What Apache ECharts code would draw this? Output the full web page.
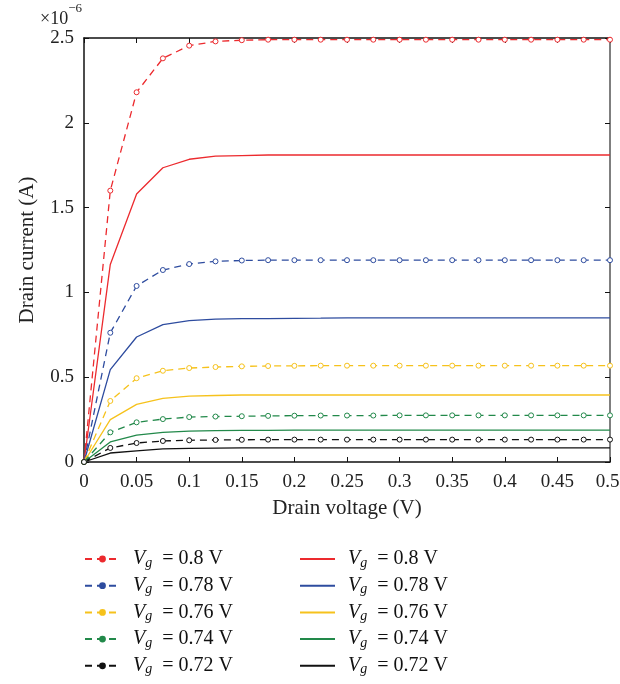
<!DOCTYPE html>
<html>
<head>
<meta charset="utf-8">
<script src="https://cdn.jsdelivr.net/npm/echarts@6/dist/echarts.min.js"></script>
<style>
html, body { margin: 0; padding: 0; background: #fff; }
#chart { width: 620px; height: 684px; }
</style>
</head>
<body>
<div id="chart"></div>
<script>
// drain voltage (V)
var vd = [0, 0.025, 0.05, 0.075, 0.1, 0.125, 0.15, 0.175, 0.2, 0.225, 0.25,
          0.275, 0.3, 0.325, 0.35, 0.375, 0.4, 0.425, 0.45, 0.475, 0.5];
var gateLabels = ['0.8', '0.78', '0.76', '0.74', '0.72'];
var colors = ['#ec2a2e', '#2e4c9f', '#f6c21c', '#22894a', '#111111'];

// drain current, x1e-6 A  (dashed with markers)
var dash08  = [0, 1.60, 2.18, 2.38, 2.455, 2.48, 2.487, 2.49, 2.49, 2.49, 2.49, 2.49, 2.49, 2.49, 2.49, 2.49, 2.49, 2.49, 2.49, 2.49, 2.49];
var dash078 = [0, 0.762, 1.038, 1.132, 1.167, 1.183, 1.188, 1.19, 1.19, 1.19, 1.19, 1.19, 1.19, 1.19, 1.19, 1.19, 1.19, 1.19, 1.19, 1.19, 1.19];
var dash076 = [0, 0.36, 0.494, 0.538, 0.554, 0.56, 0.564, 0.566, 0.567, 0.568, 0.568, 0.568, 0.568, 0.568, 0.568, 0.568, 0.568, 0.568, 0.568, 0.568, 0.568];
var dash074 = [0, 0.175, 0.234, 0.253, 0.265, 0.268, 0.27, 0.272, 0.273, 0.274, 0.274, 0.274, 0.275, 0.275, 0.275, 0.275, 0.275, 0.275, 0.275, 0.275, 0.275];
var dash072 = [0, 0.083, 0.112, 0.124, 0.128, 0.13, 0.131, 0.132, 0.132, 0.132, 0.132, 0.132, 0.132, 0.132, 0.132, 0.132, 0.132, 0.132, 0.132, 0.132, 0.132];
// solid lines
var sol08  = [0, 1.165, 1.58, 1.735, 1.785, 1.803, 1.807, 1.81, 1.81, 1.81, 1.81, 1.81, 1.81, 1.81, 1.81, 1.81, 1.81, 1.81, 1.81, 1.81, 1.81];
var sol078 = [0, 0.545, 0.737, 0.81, 0.833, 0.843, 0.845, 0.845, 0.847, 0.848, 0.85, 0.85, 0.85, 0.85, 0.85, 0.85, 0.85, 0.85, 0.85, 0.85, 0.85];
var sol076 = [0, 0.25, 0.34, 0.375, 0.388, 0.392, 0.395, 0.395, 0.395, 0.395, 0.395, 0.395, 0.395, 0.395, 0.395, 0.395, 0.395, 0.395, 0.395, 0.395, 0.395];
var sol074 = [0, 0.118, 0.159, 0.175, 0.182, 0.185, 0.186, 0.187, 0.188, 0.188, 0.188, 0.188, 0.188, 0.188, 0.188, 0.188, 0.188, 0.188, 0.188, 0.188, 0.188];
var sol072 = [0, 0.053, 0.066, 0.077, 0.08, 0.082, 0.083, 0.083, 0.083, 0.083, 0.083, 0.083, 0.083, 0.083, 0.083, 0.083, 0.083, 0.083, 0.083, 0.083, 0.083];

var dashSets = [dash08, dash078, dash076, dash074, dash072];
var solSets = [sol08, sol078, sol076, sol074, sol072];

var serif = '"Liberation Serif", "DejaVu Serif", serif';

function pairs(ys) {
	return vd.map(function (x, i) { return [x, ys[i]]; });
}

var series = [];
var dashLegend = [], solLegend = [];
gateLabels.forEach(function (g, i) {
	dashLegend.push({ name: 'd' + g, itemStyle: { color: colors[i], borderColor: colors[i] } });
	series.push({
		name: 'd' + g,
		type: 'line',
		data: pairs(dashSets[i]),
		symbol: 'circle',
		symbolSize: 5,
		itemStyle: { color: '#fff', borderColor: colors[i], borderWidth: 1 },
		lineStyle: { color: colors[i], width: 1.3, type: [7, 5] },
		z: 3
	});
});
gateLabels.forEach(function (g, i) {
	solLegend.push({ name: 's' + g });
	series.push({
		name: 's' + g,
		type: 'line',
		data: pairs(solSets[i]),
		symbol: 'none',
		itemStyle: { color: colors[i] },
		lineStyle: { color: colors[i], width: 1.3 },
		z: 2
	});
});

var legendRich = {
	v: { fontFamily: serif, fontStyle: 'italic', fontSize: 20, color: '#111', lineHeight: 22, verticalAlign: 'middle', padding: [0, 0, 0, 8] },
	g: { fontFamily: serif, fontStyle: 'italic', fontSize: 14, color: '#111', lineHeight: 14, padding: [14, 0, 0, 0], verticalAlign: 'bottom' },
	t: { fontFamily: serif, fontSize: 20, color: '#111', lineHeight: 22, verticalAlign: 'middle' }
};
function legendFmt(name) {
	return '{v|V}{g|g}{t|  = ' + name.slice(1) + ' V}';
}

var axisText = { fontFamily: serif, fontSize: 19, color: '#222' };

var option = {
	backgroundColor: '#fff',
	animation: false,
	grid: { left: 84, right: 10, top: 38, bottom: 222, outerBoundsMode: 'none', containLabel: false },
	graphic: [{
		type: 'text',
		left: 40,
		top: 2,
		style: {
			text: '{a|×10}{b|−6}',
			rich: {
				a: { fontFamily: serif, fontSize: 18, fill: '#222', lineHeight: 26, verticalAlign: 'bottom' },
				b: { fontFamily: serif, fontSize: 13, fill: '#222', lineHeight: 13, verticalAlign: 'top' }
			}
		}
	}],
	legend: [{
		data: dashLegend,
		orient: 'vertical',
		left: 84,
		top: 542,
		padding: 0,
		itemWidth: 35,
		itemHeight: 6,
		itemGap: -1.3,
		formatter: legendFmt,
		textStyle: { rich: legendRich },
		selectedMode: false
	}, {
		data: solLegend,
		orient: 'vertical',
		left: 299,
		top: 542,
		padding: 0,
		itemWidth: 35,
		itemHeight: 6,
		itemGap: -1.3,
		formatter: legendFmt,
		textStyle: { rich: legendRich },
		itemStyle: { opacity: 0 },
		selectedMode: false
	}],
	xAxis: [{
		type: 'value',
		min: 0, max: 0.5, interval: 0.05,
		name: 'Drain voltage (V)',
		nameLocation: 'middle',
		nameGap: 36,
		nameTextStyle: { fontFamily: serif, fontSize: 21, color: '#222' },
		axisLine: { lineStyle: { color: '#111', width: 1.5 } },
		axisTick: { inside: true, length: 5, lineStyle: { color: '#111' } },
		axisLabel: Object.assign({
			margin: 11,
			formatter: function (v) {
				return v === 0.5 ? '{e|0.5}' : String(+v.toFixed(2));
			},
			rich: { e: { fontFamily: serif, fontSize: 19, color: '#222', padding: [0, 5, 0, 0] } }
		}, axisText),
		splitLine: { show: false }
	}, {
		type: 'value',
		position: 'top',
		min: 0, max: 0.5, interval: 0.05,
		axisLine: { onZero: false, lineStyle: { color: '#111', width: 1.5 } },
		axisTick: { inside: true, length: 5, lineStyle: { color: '#111' } },
		axisLabel: { show: false },
		splitLine: { show: false }
	}],
	yAxis: [{
		type: 'value',
		min: 0, max: 2.5, interval: 0.5,
		name: 'Drain current (A)',
		nameLocation: 'middle',
		nameGap: 46,
		nameTextStyle: { fontFamily: serif, fontSize: 21, color: '#222' },
		axisLine: { show: true, lineStyle: { color: '#111', width: 1.5 } },
		axisTick: { show: true, inside: true, length: 5, lineStyle: { color: '#111' } },
		axisLabel: Object.assign({ margin: 10 }, axisText),
		splitLine: { show: false }
	}, {
		type: 'value',
		position: 'right',
		min: 0, max: 2.5, interval: 0.5,
		axisLine: { show: true, onZero: false, lineStyle: { color: '#555', width: 1.5 } },
		axisTick: { show: true, inside: true, length: 5, lineStyle: { color: '#111' } },
		axisLabel: { show: false },
		splitLine: { show: false }
	}],
	series: series
};

var chart = echarts.init(document.getElementById('chart'));
chart.setOption(option);
</script>
</body>
</html>
